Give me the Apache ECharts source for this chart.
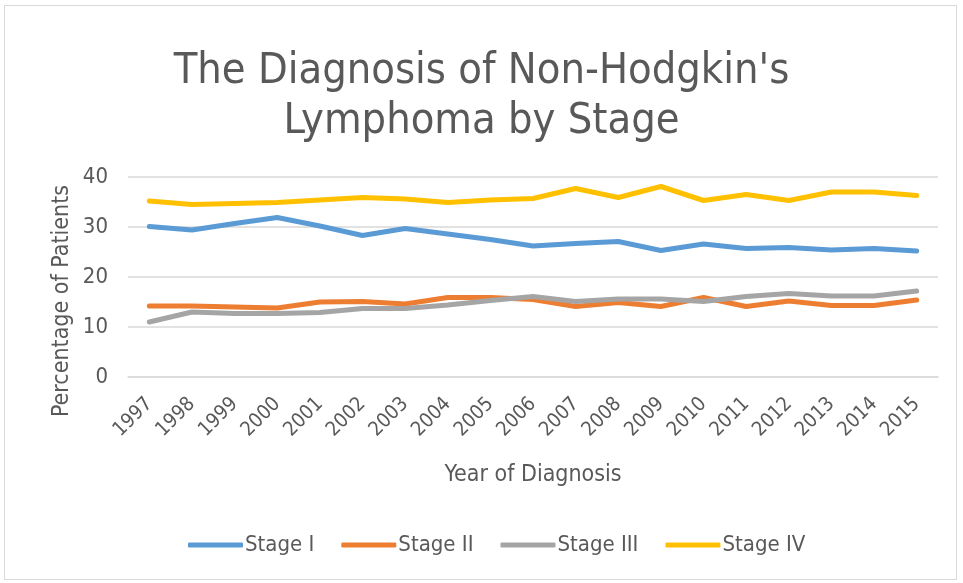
<!DOCTYPE html>
<html lang="en">
<head>
    <meta http-equiv="Content-Type" content="text/html; charset=utf-8"/>
    <title>Non-Hodgkin's Lymphoma by Stage</title>
    <script src="https://cdn.jsdelivr.net/npm/echarts@6/dist/echarts.min.js"></script>
</head>
<body>
<style>
    html, body {
        margin: 0;
        padding: 0;
        background: #fff;
    }

    #frame {
        position: absolute;
        left: 4px;
        top: 5px;
        width: 951px;
        height: 573px;
        border: 1px solid #d9d9d9;
    }

    #chart {
        position: absolute;
        left: 0;
        top: 0;
        width: 963px;
        height: 583px;
    }
</style>
<div id="frame"></div>
<div id="chart"></div>
<script type="text/javascript">

  var years = ['1997', '1998', '1999', '2000', '2001', '2002', '2003', '2004', '2005', '2006',
    '2007', '2008', '2009', '2010', '2011', '2012', '2013', '2014', '2015'];
  var stage1 = [30.1, 29.4, 30.7, 31.9, 30.2, 28.3, 29.7, 28.6, 27.5, 26.2, 26.7, 27.1, 25.3, 26.6, 25.7, 25.9, 25.4, 25.7, 25.2];
  var stage2 = [14.2, 14.2, 14.0, 13.8, 15.0, 15.1, 14.6, 15.9, 15.9, 15.5, 14.1, 14.9, 14.1, 15.9, 14.1, 15.2, 14.3, 14.3, 15.4];
  var stage3 = [11.0, 13.0, 12.7, 12.7, 12.9, 13.7, 13.7, 14.4, 15.3, 16.1, 15.1, 15.6, 15.6, 15.1, 16.1, 16.7, 16.2, 16.2, 17.2];
  var stage4 = [35.2, 34.5, 34.7, 34.9, 35.4, 35.9, 35.6, 34.9, 35.4, 35.7, 37.7, 35.9, 38.1, 35.3, 36.5, 35.3, 37.0, 37.0, 36.3];
  var seriesNames = ['Stage I', 'Stage II', 'Stage III', 'Stage IV'];
  var colors = ['#5b9bd5', '#ed7d31', '#a5a5a5', '#ffc000'];

  var FONT = "'DejaVu Sans Condensed', sans-serif";
  var TEXT = '#595959';

  var myChart = echarts.init(document.getElementById('chart'));

  var series = [stage1, stage2, stage3, stage4].map(function (values, i) {
    return {
      name: seriesNames[i],
      type: 'line',
      data: values,
      showSymbol: false,
      symbol: 'none',
      lineStyle: {width: 5, color: colors[i], cap: 'round', join: 'round'},
      itemStyle: {color: colors[i]}
    };
  });

  var option = {
    animation: false,
    color: colors,
    textStyle: {fontFamily: FONT},
    title: {
      text: "The Diagnosis of Non-Hodgkin's\nLymphoma by Stage",
      left: 'center',
      top: 42,
      textStyle: {
        fontFamily: FONT,
        fontSize: 43,
        fontWeight: 'normal',
        color: TEXT,
        lineHeight: 50
      }
    },
    legend: {
      bottom: 22,
      left: 183,
      icon: 'roundRect',
      itemWidth: 55,
      itemHeight: 5,
      itemGap: 27,
      data: seriesNames,
      textStyle: {fontFamily: FONT, fontSize: 22, color: TEXT, padding: [0, 0, 0, -3]}
    },
    grid: {
      left: 128,
      right: 25,
      top: 177,
      bottom: 206,
      containLabel: false
    },
    xAxis: {
      type: 'category',
      data: years,
      boundaryGap: true,
      name: 'Year of Diagnosis',
      nameLocation: 'middle',
      nameGap: 87,
      nameTextStyle: {fontFamily: FONT, fontSize: 23, color: TEXT},
      axisLine: {lineStyle: {color: '#d9d9d9', width: 1.5}},
      axisTick: {show: false},
      axisLabel: {rotate: 45, fontFamily: FONT, fontSize: 20, color: TEXT, margin: 24, interval: 0}
    },
    yAxis: {
      type: 'value',
      min: 0,
      max: 40,
      interval: 10,
      axisLine: {show: false},
      axisTick: {show: false},
      splitLine: {lineStyle: {color: '#d9d9d9', width: 1.5}},
      axisLabel: {fontFamily: FONT, fontSize: 22, color: TEXT, margin: 20}
    },
    graphic: [{
      type: 'text',
      x: 62,
      y: 301,
      rotation: Math.PI / 2,
      style: {
        text: 'Percentage of Patients',
        fontFamily: FONT,
        fontSize: 23,
        fill: TEXT,
        align: 'center',
        verticalAlign: 'middle'
      }
    }],
    series: series
  };

  myChart.setOption(option);
</script>
</body>
</html>
